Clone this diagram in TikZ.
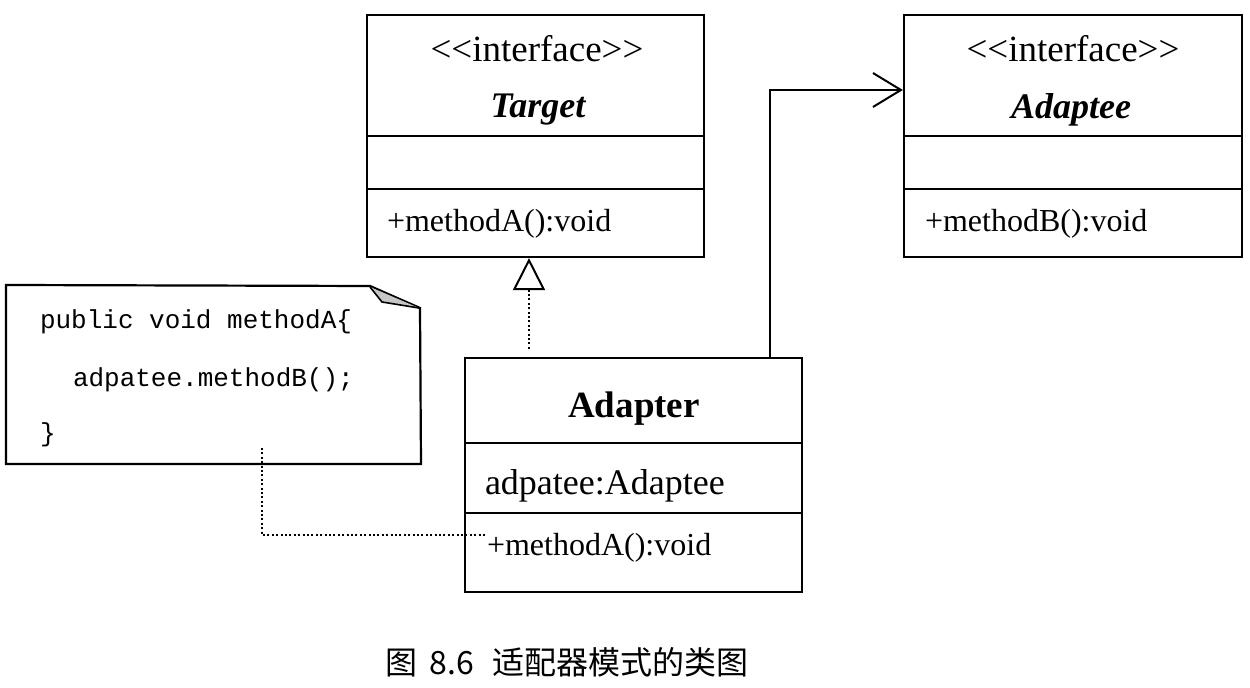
\documentclass[tikz,border=0pt]{standalone}
\usepackage{fontspec}
\setmainfont{Liberation Serif}
\setmonofont{Liberation Mono}
\newfontfamily\cjk{Noto Sans CJK SC}
\usetikzlibrary{arrows.meta}
\newcommand{\stereotxt}{<\kern0pt<\kern0pt interface\kern0pt>\kern0pt>}
\begin{document}
\begin{tikzpicture}[x=0.5pt,y=-0.5pt,
  line width=1pt,
  classbox/.style={draw, line width=1.1pt, inner sep=0pt},
  notebox/.style={inner sep=0pt, minimum width=206.5pt, minimum height=88.5pt},
  stereo/.style={font=\fontsize{18.5pt}{20pt}\selectfont, inner sep=0pt},
  iname/.style={font=\fontsize{18pt}{20pt}\selectfont\bfseries\itshape, inner sep=0pt},
  cname/.style={font=\fontsize{18.5pt}{20pt}\selectfont\bfseries, inner sep=0pt},
  member/.style={font=\fontsize{16pt}{18pt}\selectfont, inner sep=0pt, anchor=west},
  attr/.style={font=\fontsize{18pt}{20pt}\selectfont, inner sep=0pt, anchor=west},
  code/.style={font=\fontsize{13pt}{15pt}\selectfont\ttfamily, inner sep=0pt, anchor=west},
  realize/.style={dash pattern=on 1pt off 1.2pt, -{Triangle[open,length=16pt,width=16pt,line width=1pt]}},
  assoc/.style={-{Straight Barb[length=14pt,width=17pt,line width=1pt]}},
  notelink/.style={dash pattern=on 1pt off 1.2pt},
  caption/.style={font=\fontsize{16pt}{18pt}\selectfont\cjk, inner sep=0pt}
]
\useasboundingbox (0,0) rectangle (1250,688);

% Target interface
\node[classbox, minimum width=168.5pt, minimum height=121pt] (target) at (535.5,136) {};
\draw[line width=1.1pt] (target.west |- 0,136) -- (target.east |- 0,136);
\draw[line width=1.1pt] (target.west |- 0,189) -- (target.east |- 0,189);
\node[stereo] (tst) at (537,49) {\stereotxt};
\node[iname] (tnm) at (538,110) {Target};
\node[member] (tm) at (386,224) {+methodA():void};

% Adaptee interface
\node[classbox, minimum width=169pt, minimum height=121pt] (adaptee) at (1073,136) {};
\draw[line width=1.1pt] (adaptee.west |- 0,136) -- (adaptee.east |- 0,136);
\draw[line width=1.1pt] (adaptee.west |- 0,189) -- (adaptee.east |- 0,189);
\node[stereo] (ast) at (1073,49) {\stereotxt};
\node[iname] (anm) at (1071,110) {Adaptee};
\node[member] (am) at (924,224) {+methodB():void};

% Adapter class
\node[classbox, minimum width=168.5pt, minimum height=117pt] (adapter) at (633.5,475) {};
\draw[line width=1.1pt] (adapter.west |- 0,443) -- (adapter.east |- 0,443);
\draw[line width=1.1pt] (adapter.west |- 0,513) -- (adapter.east |- 0,513);
\node[cname] (dnm) at (634,409) {Adapter};
\node[attr] (datt) at (484,486) {adpatee:Adaptee};
\node[member] (dm) at (486,548) {+methodA():void};

% Note
\node[notebox] (note) at (213.5,374.5) {};
\draw[line width=1.1pt] (note.north west) -- (370,286) -- (420,308) -- (note.south east) -- (note.south west) -- cycle;
\fill[gray!45] (370,287) -- (382,302) -- (419,308) -- cycle;
\draw[line width=0.8pt] (370,287) -- (382,302) -- (419,308);
\node[code] (c1) at (39,322) {public void methodA\{};
\node[code] (c2) at (72,380) {adpatee.methodB();};
\node[code] (c3) at (39,435) {\}};

% Connectors
\draw[realize, shorten <=4pt] (adapter.north -| 529,0) -- (target.south -| 529,0);
\draw[assoc] (adapter.north -| 770,0) |- (adaptee.west |- 0,90);
\coordinate (nstart) at (262,448);
\coordinate (nend) at (486,535);
\draw[notelink] (nstart) |- (nend);

% Caption
\node[caption] (cap) at (567,662) {图\hspace{6pt}8.6\hspace{9pt}适配器模式的类图};
\end{tikzpicture}
\end{document}
